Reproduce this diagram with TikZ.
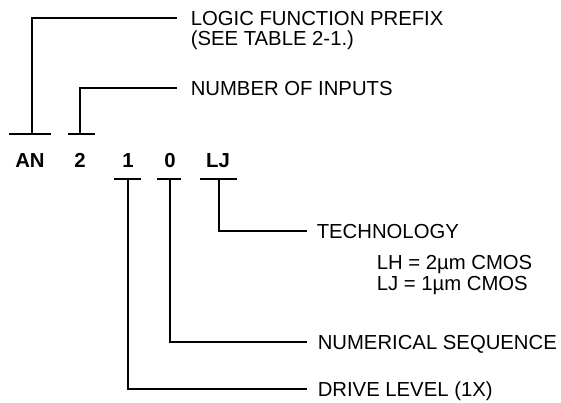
\documentclass[tikz,border=0pt]{standalone}
\usepackage{fontspec}
\setmainfont{Liberation Sans}
\usepackage{tikz}
\usetikzlibrary{positioning}

\begin{document}
\begin{tikzpicture}[x=1pt, y=-1pt, line width=1.5pt,
    code/.style={font=\fontsize{20.3}{24}\selectfont\bfseries, inner sep=0pt, text height=14.5pt, text depth=0pt},
    desc/.style={anchor=west, font=\fontsize{20.3}{24}\selectfont, inner ysep=0pt, text height=14.5pt, text depth=0pt}]
    \useasboundingbox (0,0) rectangle (561,402);

    % Part number letters
    \node[code] (cAN) at (30,160) {AN};
    \node[code] (c2) at (80,160) {2};
    \node[code] (c1) at (128,160) {1};
    \node[code] (c0) at (170,160) {0};
    \node[code] (cLJ) at (218,160) {LJ};

    % Bars over and under the letters
    \foreach \name/\x/\l/\r/\y in {an/32/9/51/134, in/80/68/95/134, dr/128/114/141/179, sq/170/157/181/179, te/219/200/237/179} {
        \coordinate (\name) at (\x,\y);
        \draw (\l,\y) -- (\r,\y);
    }

    % Descriptions
    \node[desc, inner xsep=13pt] (prefix) at (177,18) {LOGIC FUNCTION PREFIX};
    \node[desc, inner xsep=13pt] (prefixref) at (177,38) {(SEE TABLE 2-1.)};
    \node[desc, inner xsep=13pt] (inputs) at (177,88) {NUMBER OF INPUTS};
    \node[desc, inner xsep=9pt] (tech) at (307,231) {TECHNOLOGY};
    \node[desc, inner xsep=0pt] (lh) at (376,262) {LH = 2µm CMOS};
    \node[desc, inner xsep=0pt] (lj) at (376,283) {LJ = 1µm CMOS};
    \node[desc, inner xsep=10pt] (seq) at (307,342) {NUMERICAL SEQUENCE};
    \node[desc, inner xsep=10pt] (drive) at (307,389) {DRIVE LEVEL (1X)};

    % Leader lines
    \draw (an) |- (prefix.west);
    \draw (in) |- (inputs.west);
    \draw (te) |- (tech.west);
    \draw (sq) |- (seq.west);
    \draw (dr) |- (drive.west);
\end{tikzpicture}
\end{document}
